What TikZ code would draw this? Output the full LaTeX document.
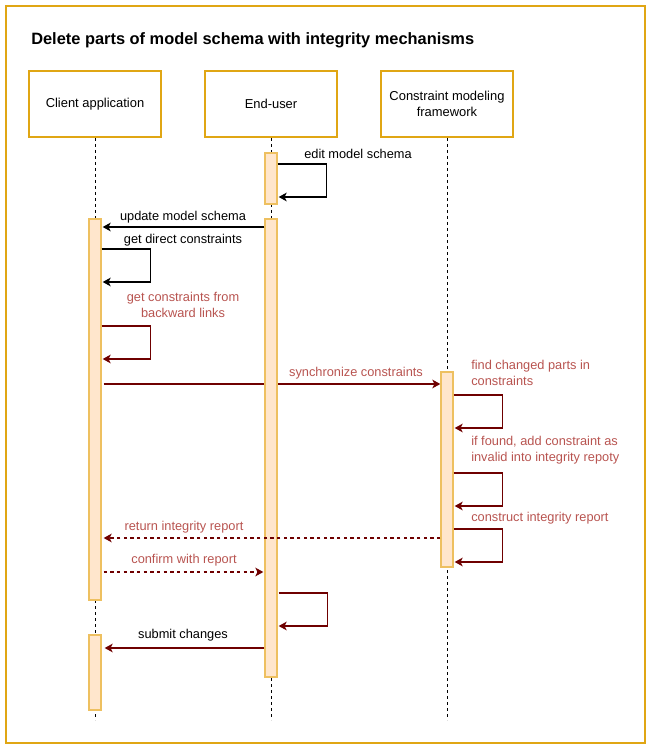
\documentclass[tikz,border=0pt]{standalone}
\usepackage{fontspec}
\setmainfont{Liberation Sans}
\usetikzlibrary{arrows.meta,calc}
\definecolor{gold}{RGB}{224,166,20}
\definecolor{actline}{RGB}{238,192,96}
\definecolor{actfill}{RGB}{255,230,204}
\definecolor{darkred}{RGB}{111,0,0}
\definecolor{redtext}{RGB}{184,84,80}
\pgfdeclarelayer{back}
\pgfsetlayers{back,main}
\tikzset{actor/.style={draw=gold,line width=1.5pt,fill=white,minimum width=99pt,minimum height=49.5pt,align=center,font=\fontsize{9.7}{12.2}\selectfont}}
\tikzset{act/.style={draw=actline,fill=actfill,line width=1pt,minimum width=9pt,minimum height=#1*0.75pt,inner sep=0pt}}
\tikzset{life/.style={dash pattern=on 2.25pt off 2.25pt,line width=0.6pt}}
\tikzset{msg/.style={-{Stealth[length=6pt,width=6.5pt,inset=1.6pt]},line width=1pt}}
\tikzset{rmsg/.style={msg,draw=darkred}}
\tikzset{ret/.style={rmsg,dash pattern=on 2.5pt off 2.5pt}}
\tikzset{lbl/.style={font=\fontsize{9.6}{12.2}\selectfont,inner sep=0pt,align=center}}
\tikzset{rlbl/.style={lbl,text=redtext}}

\begin{document}
\begin{tikzpicture}[x=0.75pt,y=-0.75pt]
\useasboundingbox (0,0) rectangle (654,752);
\draw[gold,line width=1.5pt] (6,6) rectangle (645,743);
\node[anchor=west,font=\fontsize{12.3}{14}\selectfont\bfseries,inner sep=0pt] (title) at (31,40) {Delete parts of model schema with integrity mechanisms};

\node[actor] (cli) at (95,104) {Client application};
\node[actor] (usr) at (271,104) {End-user};
\node[actor] (fw) at (447,104) {Constraint modeling\\framework};
\coordinate (cliend) at (95,720);
\coordinate (usrend) at (271,720);
\coordinate (fwend) at (447,720);
\draw[life] (cli.south)--(cliend) (usr.south)--(usrend) (fw.south)--(fwend);

\node[act=51] (u1) at (271,178.5) {};
\node[act=458] (u2) at (271,448) {};
\node[act=381] (c1) at (95,409.5) {};
\node[act=75] (c2) at (95,672.5) {};
\node[act=195] (f1) at (447,469.5) {};

\draw[msg] (u1.east |- 0,164) -- ++(49,0) |- ($(u1.east |- 0,197)+(1,0)$);
\node[lbl] (m1) at (358,154) {edit model schema};
\draw[msg] (u2.west |- 0,227) -- ($(c1.east |- 0,227)+(1,0)$);
\node[lbl] (m2) at (183,217) {update model schema};
\draw[msg] (c1.east |- 0,249) -- ++(49,0) |- ($(c1.east |- 0,282)+(1,0)$);
\node[lbl] (m3) at (183,240) {get direct constraints};
\draw[rmsg] (c1.east |- 0,326) -- ++(49,0) |- ($(c1.east |- 0,359)+(1,0)$);
\node[rlbl] (m4) at (183,305) {get constraints from\\backward links};
\begin{pgfonlayer}{back}
\draw[rmsg] ($(c1.east |- 0,384)+(2,0)$) -- (f1.west |- 0,384);
\end{pgfonlayer}
\node[rlbl] (m5) at (356,373) {synchronize constraints};
\draw[rmsg] (f1.east |- 0,395) -- ++(49,0) |- ($(f1.east |- 0,428)+(1,0)$);
\node[rlbl,anchor=west,align=left] (m6) at (471,373) {find changed parts in\\constraints};
\draw[rmsg] (f1.east |- 0,473) -- ++(49,0) |- ($(f1.east |- 0,506)+(1,0)$);
\node[rlbl,anchor=west,align=left] (m7) at (471,450.5) {if found, add constraint as\\invalid into integrity repoty};
\draw[rmsg] (f1.east |- 0,529) -- ++(49,0) |- ($(f1.east |- 0,562)+(1,0)$);
\node[rlbl,anchor=west] (m8) at (471,518) {construct integrity report};
\draw[ret] (f1.west |- 0,538) -- ($(c1.east |- 0,538)+(2,0)$);
\node[rlbl] (m9) at (184,527) {return integrity report};
\draw[ret] ($(c1.east |- 0,572)+(2,0)$) -- ($(u2.west |- 0,572)+(-1,0)$);
\node[rlbl] (m10) at (184,560) {confirm with report};
\draw[rmsg] ($(u2.east |- 0,593)+(1,0)$) -- ++(49,0) |- ($(u2.east |- 0,626)+(1,0)$);
\draw[rmsg] (u2.west |- 0,648) -- ($(c2.east |- 0,648)+(3,0)$);
\node[lbl] (m11) at (183,635) {submit changes};
\end{tikzpicture}
\end{document}
